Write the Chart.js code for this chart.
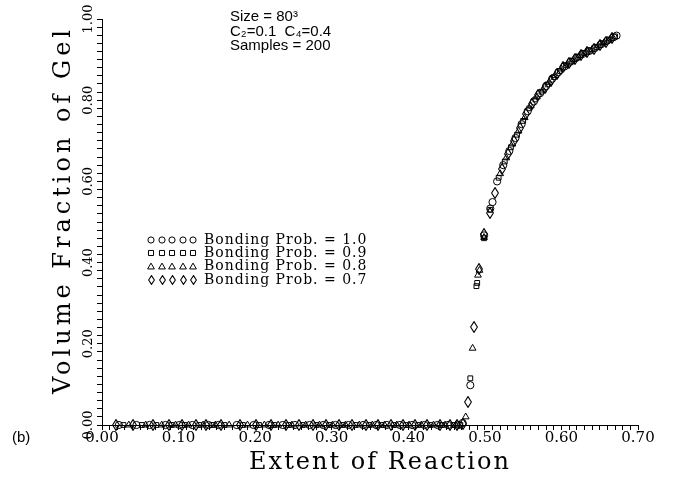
<!DOCTYPE html>
<html>
<head>
<meta charset="utf-8">
<script src="https://cdn.jsdelivr.net/npm/chart.js@4.4.0/dist/chart.umd.min.js"></script>
<style>
    html, body { margin: 0; padding: 0; background: #fff; }
</style>
</head>
<body>
<canvas id="chart" width="673" height="477"></canvas>
<script>
const xTickLabels = ['0.00', '0.10', '0.20', '0.30', '0.40', '0.50', '0.60', '0.70'];
const yTickLabels = ['0.00', '0.20', '0.40', '0.60', '0.80', '1.00'];
const seriesNames = ['Bonding Prob. = 1.0', 'Bonding Prob. = 0.9', 'Bonding Prob. = 0.8', 'Bonding Prob. = 0.7'];
const infoLines = ['Size = 80\u00B3', 'C\u2082=0.1  C\u2084=0.4', 'Samples = 200'];

// bonding prob 1.0 (circles)
const p10X = [0.022, 0.045, 0.062, 0.083, 0.101, 0.118, 0.139, 0.152, 0.176, 0.198, 0.218, 0.236, 0.252, 0.271, 0.289, 0.305, 0.322, 0.341, 0.358, 0.372, 0.389, 0.405, 0.421, 0.438, 0.452, 0.466,
    0.471, 0.481, 0.499, 0.507, 0.510,
    0.516, 0.524, 0.532, 0.540, 0.548, 0.556, 0.564, 0.572, 0.580, 0.588, 0.596, 0.604, 0.612, 0.620, 0.628, 0.636, 0.644, 0.652, 0.660, 0.668, 0.672];
const p10Y = [0, 0, 0, 0, 0, 0, 0, 0, 0, 0, 0, 0, 0, 0, 0, 0, 0, 0, 0, 0, 0, 0, 0, 0, 0, 0,
    0.005, 0.098, 0.467, 0.533, 0.549,
    0.600, 0.640, 0.675, 0.707, 0.741, 0.773, 0.797, 0.817, 0.835, 0.853, 0.869, 0.883, 0.895, 0.905, 0.914, 0.921, 0.929, 0.938, 0.947, 0.955, 0.959];

// bonding prob 0.9 (squares)
const p09X = [0.028, 0.052, 0.071, 0.091, 0.108, 0.127, 0.144, 0.160, 0.184, 0.205, 0.225, 0.244, 0.262, 0.280, 0.297, 0.314, 0.331, 0.349, 0.365, 0.381, 0.397, 0.413, 0.429, 0.444, 0.459, 0.468,
    0.481, 0.489, 0.490, 0.499, 0.507,
    0.518, 0.526, 0.534, 0.542, 0.550, 0.558, 0.566, 0.574, 0.582, 0.590, 0.598, 0.606, 0.614, 0.622, 0.630, 0.638, 0.646, 0.654, 0.662, 0.670];
const p09Y = [0, 0, 0, 0, 0, 0, 0, 0, 0, 0, 0, 0, 0, 0, 0, 0, 0, 0, 0, 0, 0, 0, 0, 0, 0, 0,
    0.115, 0.342, 0.350, 0.460, 0.530,
    0.609, 0.649, 0.684, 0.715, 0.749, 0.780, 0.802, 0.821, 0.839, 0.857, 0.872, 0.886, 0.897, 0.907, 0.916, 0.922, 0.931, 0.940, 0.949, 0.957];

// bonding prob 0.8 (triangles)
const p08X = [0.035, 0.057, 0.078, 0.096, 0.113, 0.132, 0.148, 0.166, 0.190, 0.212, 0.230, 0.248, 0.266, 0.284, 0.301, 0.318, 0.336, 0.353, 0.369, 0.385, 0.401, 0.417, 0.433, 0.448, 0.462,
    0.475, 0.484, 0.491, 0.493, 0.499,
    0.520, 0.528, 0.536, 0.544, 0.552, 0.560, 0.568, 0.576, 0.584, 0.592, 0.600, 0.608, 0.616, 0.624, 0.632, 0.640, 0.648, 0.656, 0.664];
const p08Y = [0, 0, 0, 0, 0, 0, 0, 0, 0, 0, 0, 0, 0, 0, 0, 0, 0, 0, 0, 0, 0, 0, 0, 0, 0,
    0.020, 0.189, 0.369, 0.381, 0.462,
    0.619, 0.658, 0.692, 0.724, 0.757, 0.786, 0.808, 0.825, 0.844, 0.861, 0.877, 0.889, 0.900, 0.910, 0.918, 0.925, 0.934, 0.942, 0.951];

// bonding prob 0.7 (diamonds)
const p07X = [0.018, 0.040, 0.066, 0.087, 0.105, 0.123, 0.136, 0.156, 0.180, 0.201, 0.221, 0.240, 0.257, 0.275, 0.293, 0.310, 0.327, 0.345, 0.361, 0.377, 0.393, 0.409, 0.425, 0.441, 0.455, 0.464,
    0.471, 0.478, 0.486, 0.493, 0.499, 0.507, 0.513,
    0.522, 0.530, 0.538, 0.546, 0.554, 0.562, 0.570, 0.578, 0.586, 0.594, 0.602, 0.610, 0.618, 0.626, 0.634, 0.642, 0.650, 0.658, 0.666];
const p07Y = [0, 0, 0, 0, 0, 0, 0, 0, 0, 0, 0, 0, 0, 0, 0, 0, 0, 0, 0, 0, 0, 0, 0, 0, 0, 0,
    0.003, 0.057, 0.242, 0.385, 0.470, 0.521, 0.572,
    0.630, 0.667, 0.700, 0.732, 0.766, 0.791, 0.813, 0.830, 0.848, 0.865, 0.881, 0.892, 0.902, 0.912, 0.919, 0.927, 0.936, 0.944, 0.953];

const SERIF = '"DejaVu Serif", "Liberation Serif", serif';
const SANS = '"Liberation Sans", Arial, sans-serif';

// tall open diamond, the built-in rectRot is too squat
function makeDiamond(w, h) {
    const c = document.createElement('canvas');
    c.width = w;
    c.height = h;
    const g = c.getContext('2d');
    g.strokeStyle = '#000';
    g.lineWidth = 1.1;
    g.beginPath();
    g.moveTo(w / 2, 0.6);
    g.lineTo(w - 0.6, h / 2);
    g.lineTo(w / 2, h - 0.6);
    g.lineTo(0.6, h / 2);
    g.closePath();
    g.stroke();
    return c;
}

const diamond = makeDiamond(8, 12);
const smallDiamond = makeDiamond(7, 10);
const markerStyles = ['circle', 'rect', 'triangle', diamond];
const legendStyles = ['circle', 'rect', 'triangle', smallDiamond];
const markerRadius = [3.6, 3.4, 3.9, 4];
const legendRadius = [3.1, 3.6, 3.9, 3];

function toPoints(xs, ys) {
    return xs.map((x, i) => ({ x, y: ys[i] }));
}

const seriesData = [
    toPoints(p10X, p10Y),
    toPoints(p09X, p09Y),
    toPoints(p08X, p08Y),
    toPoints(p07X, p07Y),
];

const textPlugin = {
    id: 'paperText',
    beforeDatasetsDraw(chart) {
        chart.ctx.imageSmoothingEnabled = false;
    },
    afterDraw(chart) {
        const ctx = chart.ctx;
        const xs = chart.scales.x;
        const ys = chart.scales.y;

        ctx.save();
        ctx.imageSmoothingEnabled = false;
        ctx.fillStyle = '#000';

        // x tick labels
        ctx.font = '15px ' + SERIF;
        ctx.textAlign = 'center';
        ctx.textBaseline = 'middle';
        xTickLabels.forEach((label) => {
            ctx.fillText(label, xs.getPixelForValue(parseFloat(label)), 438);
        });

        // y tick labels, rotated
        ctx.font = '13px ' + SERIF;
        yTickLabels.forEach((label) => {
            ctx.save();
            ctx.translate(89, ys.getPixelForValue(parseFloat(label)));
            ctx.rotate(-Math.PI / 2);
            ctx.fillText(label, 0, 0);
            ctx.restore();
        });

        // axis titles
        ctx.font = '24px ' + SERIF;
        ctx.letterSpacing = '2px';
        ctx.fillText('Extent of Reaction', 380, 463);

        ctx.save();
        ctx.translate(64, 210);
        ctx.rotate(-Math.PI / 2);
        ctx.letterSpacing = '4px';
        ctx.fillText('Volume Fraction of Gel', 0, 0);
        ctx.restore();
        ctx.letterSpacing = '0px';

        // run info
        ctx.font = '15px ' + SANS;
        ctx.textAlign = 'left';
        infoLines.forEach((line, i) => {
            ctx.fillText(line, 230, 17 + i * 14.5);
        });

        // legend
        seriesNames.forEach((name, i) => {
            const y = 240 + i * 13.3;
            for (let k = 0; k < 5; k++) {
                ctx.fillStyle = 'rgba(0,0,0,0)';
                ctx.strokeStyle = '#000';
                ctx.lineWidth = 1;
                Chart.helpers.drawPoint(ctx, {
                    pointStyle: legendStyles[i],
                    radius: legendRadius[i],
                    rotation: 0,
                    borderWidth: 1,
                }, Math.round(151 + k * 10.5), Math.round(y));
            }
            ctx.fillStyle = '#000';
            ctx.font = '14px ' + SERIF;
            ctx.letterSpacing = '1px';
            ctx.fillText(name, 204, y);
            ctx.letterSpacing = '0px';
        });

        ctx.font = '15px ' + SANS;
        ctx.fillText('(b)', 12, 438);

        ctx.restore();
    },
};

new Chart(document.getElementById('chart'), {
    type: 'scatter',
    data: {
        datasets: seriesData.map((data, i) => ({
            label: seriesNames[i],
            data,
            pointStyle: markerStyles[i],
            pointRadius: markerRadius[i],
            pointBorderWidth: 1,
            pointBorderColor: '#000',
            pointBackgroundColor: 'rgba(0,0,0,0)',
            clip: false,
        })),
    },
    options: {
        responsive: false,
        animation: false,
        events: [],
        layout: {
            padding: { left: 0, right: 35, top: 19, bottom: 0 },
        },
        plugins: {
            legend: { display: false },
            tooltip: { enabled: false },
        },
        scales: {
            x: {
                type: 'linear',
                min: 0,
                max: 0.7,
                afterFit: (scale) => { scale.height = 52; },
                ticks: { display: false, stepSize: 0.01, autoSkip: false },
                grid: { drawOnChartArea: false, drawTicks: true, tickLength: 5, color: '#000', lineWidth: 1 },
                border: { color: '#000', width: 1 },
            },
            y: {
                type: 'linear',
                min: 0,
                max: 1,
                afterFit: (scale) => { scale.width = 102; },
                ticks: { display: false, stepSize: 0.02, autoSkip: false },
                grid: { drawOnChartArea: false, drawTicks: true, tickLength: 5, color: '#000', lineWidth: 1 },
                border: { color: '#000', width: 1 },
            },
        },
    },
    plugins: [textPlugin],
});
</script>
</body>
</html>
